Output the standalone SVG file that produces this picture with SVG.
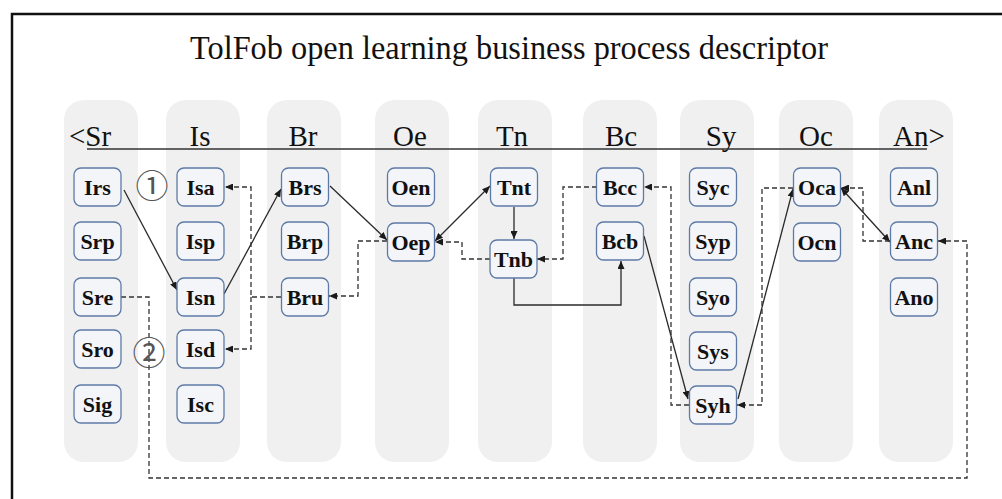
<svg xmlns="http://www.w3.org/2000/svg" width="1002" height="499" viewBox="0 0 1002 499">
<style>
.col{fill:#f0f0f0}
.hd{font-family:"Liberation Serif","Times New Roman",serif;font-size:29px;fill:#111;text-anchor:middle}
.nd rect{fill:#f3f5f9;stroke:#5d7aa6;stroke-width:1.3}
.nd text{font-family:"Liberation Serif","Times New Roman",serif;font-weight:bold;font-size:22px;fill:#111;text-anchor:middle}
.s{fill:none;stroke:#2a2a2a;stroke-width:1.3}
.d{fill:none;stroke:#333;stroke-width:1.3;stroke-dasharray:5 3}
.num{font-family:"Noto Sans CJK SC","DejaVu Sans",sans-serif;font-size:33px;fill:#555;text-anchor:middle}
</style>
<defs>
<marker id="ah" viewBox="0 0 8 7" refX="8" refY="3.5" markerWidth="8" markerHeight="7" markerUnits="userSpaceOnUse" orient="auto-start-reverse"><path d="M0,0 L8,3.5 L0,7 z" fill="#1a1a1a"/></marker>
</defs>
<rect width="1002" height="499" fill="#fff"/>
<path d="M12,499 V14 H1002" fill="none" stroke="#111" stroke-width="2.5"/>
<text x="509" y="59" font-family="Liberation Serif,serif" font-size="34" fill="#111" text-anchor="middle" textLength="638" lengthAdjust="spacingAndGlyphs">TolFob open learning business process descriptor</text>
<g id="columns">
<rect class="col" x="64" y="100" width="74" height="362" rx="20"/>
<rect class="col" x="166" y="100" width="74" height="362" rx="20"/>
<rect class="col" x="267" y="100" width="74" height="362" rx="20"/>
<rect class="col" x="375" y="100" width="74" height="362" rx="20"/>
<rect class="col" x="478" y="100" width="74" height="362" rx="20"/>
<rect class="col" x="583" y="100" width="74" height="362" rx="20"/>
<rect class="col" x="680" y="100" width="74" height="362" rx="20"/>
<rect class="col" x="779" y="100" width="74" height="362" rx="20"/>
<rect class="col" x="879" y="100" width="74" height="362" rx="20"/>
</g>
<g id="headers">
<text class="hd" x="90" y="146">&lt;Sr</text>
<text class="hd" x="200" y="146">Is</text>
<text class="hd" x="303" y="146">Br</text>
<text class="hd" x="410" y="146">Oe</text>
<text class="hd" x="512" y="146">Tn</text>
<text class="hd" x="621" y="146">Bc</text>
<text class="hd" x="721" y="146">Sy</text>
<text class="hd" x="816" y="146">Oc</text>
<text class="hd" x="919" y="146">An&gt;</text>
<path d="M87,149 H927" stroke="#333" stroke-width="1.5"/>
</g>
<g id="connectors">
<path class="s" d="M124,190 L177,290" marker-end="url(#ah)"/>
<path class="s" d="M224,294 L281,189" marker-end="url(#ah)"/>
<path class="s" d="M330,186 L387,240" marker-end="url(#ah)"/>
<path class="s" d="M435,241 L490,186" marker-start="url(#ah)" marker-end="url(#ah)"/>
<path class="s" d="M514,207 L514,239" marker-end="url(#ah)"/>
<path class="s" d="M514,278 L514,305 L621,305 L621,261" marker-end="url(#ah)"/>
<path class="s" d="M644,236 L688,399" marker-end="url(#ah)"/>
<path class="s" d="M738,399 L793,189" marker-end="url(#ah)"/>
<path class="s" d="M841,188 L890,242" marker-start="url(#ah)" marker-end="url(#ah)"/>
<path class="d" d="M281,297 H251 V187 H225" marker-end="url(#ah)"/>
<path class="d" d="M251,297 V349 H225" marker-end="url(#ah)"/>
<path class="d" d="M387,241 H358 V296 H329" marker-end="url(#ah)"/>
<path class="d" d="M490,259 H462 V242 H435" marker-end="url(#ah)"/>
<path class="d" d="M597,187 H563 V259 H537" marker-end="url(#ah)"/>
<path class="d" d="M689,405 H671 V187 H644" marker-end="url(#ah)"/>
<path class="d" d="M793,188 H762 V405 H737" marker-end="url(#ah)"/>
<path class="d" d="M890,241 H863 V188 H841" marker-end="url(#ah)"/>
<path class="d" d="M121,297 H149 V478 H967 V241 H938" marker-end="url(#ah)"/>
</g>
<text class="num" x="152" y="198">①</text>
<text class="num" x="149" y="365">②</text>
<g id="n-Irs" class="nd"><rect x="74" y="168" width="47" height="38" rx="7"/><text x="97.5" y="195">Irs</text></g>
<g id="n-Srp" class="nd"><rect x="74" y="222" width="47" height="38" rx="7"/><text x="97.5" y="249">Srp</text></g>
<g id="n-Sre" class="nd"><rect x="74" y="278" width="47" height="38" rx="7"/><text x="97.5" y="305">Sre</text></g>
<g id="n-Sro" class="nd"><rect x="74" y="330" width="47" height="38" rx="7"/><text x="97.5" y="357">Sro</text></g>
<g id="n-Sig" class="nd"><rect x="74" y="385" width="47" height="38" rx="7"/><text x="97.5" y="412">Sig</text></g>
<g id="n-Isa" class="nd"><rect x="177" y="168" width="47" height="38" rx="7"/><text x="200.5" y="195">Isa</text></g>
<g id="n-Isp" class="nd"><rect x="177" y="222" width="47" height="38" rx="7"/><text x="200.5" y="249">Isp</text></g>
<g id="n-Isn" class="nd"><rect x="177" y="278" width="47" height="38" rx="7"/><text x="200.5" y="305">Isn</text></g>
<g id="n-Isd" class="nd"><rect x="177" y="330" width="47" height="38" rx="7"/><text x="200.5" y="357">Isd</text></g>
<g id="n-Isc" class="nd"><rect x="177" y="385" width="47" height="38" rx="7"/><text x="200.5" y="412">Isc</text></g>
<g id="n-Brs" class="nd"><rect x="281.5" y="168" width="47" height="38" rx="7"/><text x="305" y="195">Brs</text></g>
<g id="n-Brp" class="nd"><rect x="281.5" y="222" width="47" height="38" rx="7"/><text x="305" y="249">Brp</text></g>
<g id="n-Bru" class="nd"><rect x="281.5" y="278" width="47" height="38" rx="7"/><text x="305" y="305">Bru</text></g>
<g id="n-Oen" class="nd"><rect x="387.5" y="168" width="47" height="38" rx="7"/><text x="411" y="195">Oen</text></g>
<g id="n-Oep" class="nd"><rect x="387.5" y="223" width="47" height="38" rx="7"/><text x="411" y="250">Oep</text></g>
<g id="n-Tnt" class="nd"><rect x="490.5" y="168" width="47" height="38" rx="7"/><text x="514" y="195">Tnt</text></g>
<g id="n-Tnb" class="nd"><rect x="490" y="240" width="47" height="38" rx="7"/><text x="513.5" y="267">Tnb</text></g>
<g id="n-Bcc" class="nd"><rect x="596.5" y="168" width="47" height="38" rx="7"/><text x="620" y="195">Bcc</text></g>
<g id="n-Bcb" class="nd"><rect x="596.5" y="222" width="47" height="38" rx="7"/><text x="620" y="249">Bcb</text></g>
<g id="n-Syc" class="nd"><rect x="689.5" y="168" width="47" height="38" rx="7"/><text x="713" y="195">Syc</text></g>
<g id="n-Syp" class="nd"><rect x="689.5" y="222" width="47" height="38" rx="7"/><text x="713" y="249">Syp</text></g>
<g id="n-Syo" class="nd"><rect x="689.5" y="278" width="47" height="38" rx="7"/><text x="713" y="305">Syo</text></g>
<g id="n-Sys" class="nd"><rect x="689.5" y="332" width="47" height="38" rx="7"/><text x="713" y="359">Sys</text></g>
<g id="n-Syh" class="nd"><rect x="689.5" y="386" width="47" height="38" rx="7"/><text x="713" y="413">Syh</text></g>
<g id="n-Oca" class="nd"><rect x="793.5" y="168" width="47" height="38" rx="7"/><text x="817" y="195">Oca</text></g>
<g id="n-Ocn" class="nd"><rect x="793.5" y="223" width="47" height="38" rx="7"/><text x="817" y="250">Ocn</text></g>
<g id="n-Anl" class="nd"><rect x="890.5" y="168" width="47" height="38" rx="7"/><text x="914" y="195">Anl</text></g>
<g id="n-Anc" class="nd"><rect x="890.5" y="222" width="47" height="38" rx="7"/><text x="914" y="249">Anc</text></g>
<g id="n-Ano" class="nd"><rect x="890.5" y="278" width="47" height="38" rx="7"/><text x="914" y="305">Ano</text></g>
</svg>
